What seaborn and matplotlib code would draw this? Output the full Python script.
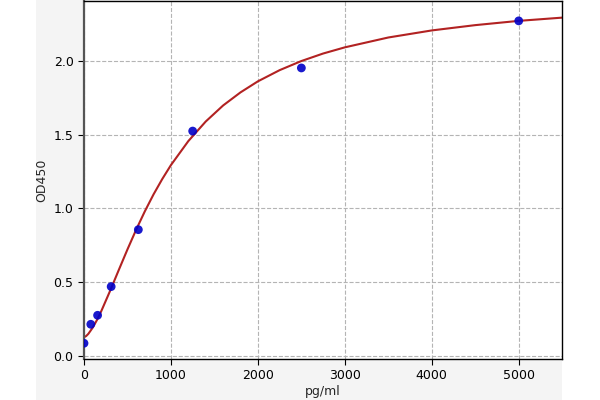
import numpy as np
import pandas as pd
import matplotlib
matplotlib.use("Agg")
import matplotlib.pyplot as plt
from matplotlib.patches import Rectangle
import seaborn as sns

# standard points
conc = [0, 78.125, 156.25, 312.5, 625, 1250, 2500, 5000]
od = [0.084, 0.213, 0.274, 0.469, 0.856, 1.526, 1.955, 2.275]

# fitted curve
curve_x = [0, 25, 50, 100, 150, 200, 300, 400, 500, 600, 700, 800, 900, 1000,
           1200, 1400, 1600, 1800, 2000, 2250, 2500, 2750, 3000, 3500, 4000,
           4500, 5000, 5500]
curve_y = [0.125, 0.133, 0.148, 0.190, 0.243, 0.304, 0.440, 0.582, 0.722,
           0.856, 0.981, 1.096, 1.200, 1.295, 1.458, 1.591, 1.700, 1.789,
           1.864, 1.940, 2.002, 2.053, 2.095, 2.162, 2.210, 2.246, 2.275,
           2.297]

pts = pd.DataFrame({'conc': conc, 'od': od})
fit = pd.DataFrame({'conc': curve_x, 'od': curve_y})

sns.set_style('white')
plt.rcParams['font.family'] = ['DejaVu Sans']

fig = plt.figure(figsize=(6, 4), dpi=100, facecolor='white')
# grey panel behind the plot
fig.patches.append(Rectangle((36 / 600, 0), (562 - 36) / 600, 1,
                             transform=fig.transFigure, facecolor='#f4f4f4',
                             edgecolor='none', zorder=-1))
ax = fig.add_axes([0.14, 0.1025, 0.797, 0.895])
ax.set_facecolor('white')

sns.lineplot(data=fit, x='conc', y='od', color='#b22222', linewidth=1.5,
             ax=ax, zorder=2)
sns.scatterplot(data=pts, x='conc', y='od', color='#0000c8', s=40,
                edgecolor='none', alpha=0.9, ax=ax, zorder=3)

ax.set_xlim(0, 5500)
ax.set_ylim(-0.023, 2.41)
ax.set_xticks([0, 1000, 2000, 3000, 4000, 5000])
ax.set_yticks([0.0, 0.5, 1.0, 1.5, 2.0])
ax.set_yticklabels(['0.0', '0.5', '1.0', '1.5', '2.0'])
ax.grid(True, linestyle='--', color='#b4b4b4', linewidth=0.8)
ax.set_axisbelow(True)
ax.tick_params(axis='both', direction='out', length=4, width=0.8,
               labelsize=9, colors='black', bottom=True, left=True)
for side in ['top', 'right', 'bottom']:
    ax.spines[side].set_color('black')
    ax.spines[side].set_linewidth(1.0)
ax.spines['left'].set_color('#555555')
ax.spines['left'].set_linewidth(1.6)

ax.set_xlabel('pg/ml', fontsize=9, labelpad=2)
ax.set_ylabel('OD450', fontsize=9, labelpad=4)

fig.savefig('out.png', dpi=100, facecolor=fig.get_facecolor())
